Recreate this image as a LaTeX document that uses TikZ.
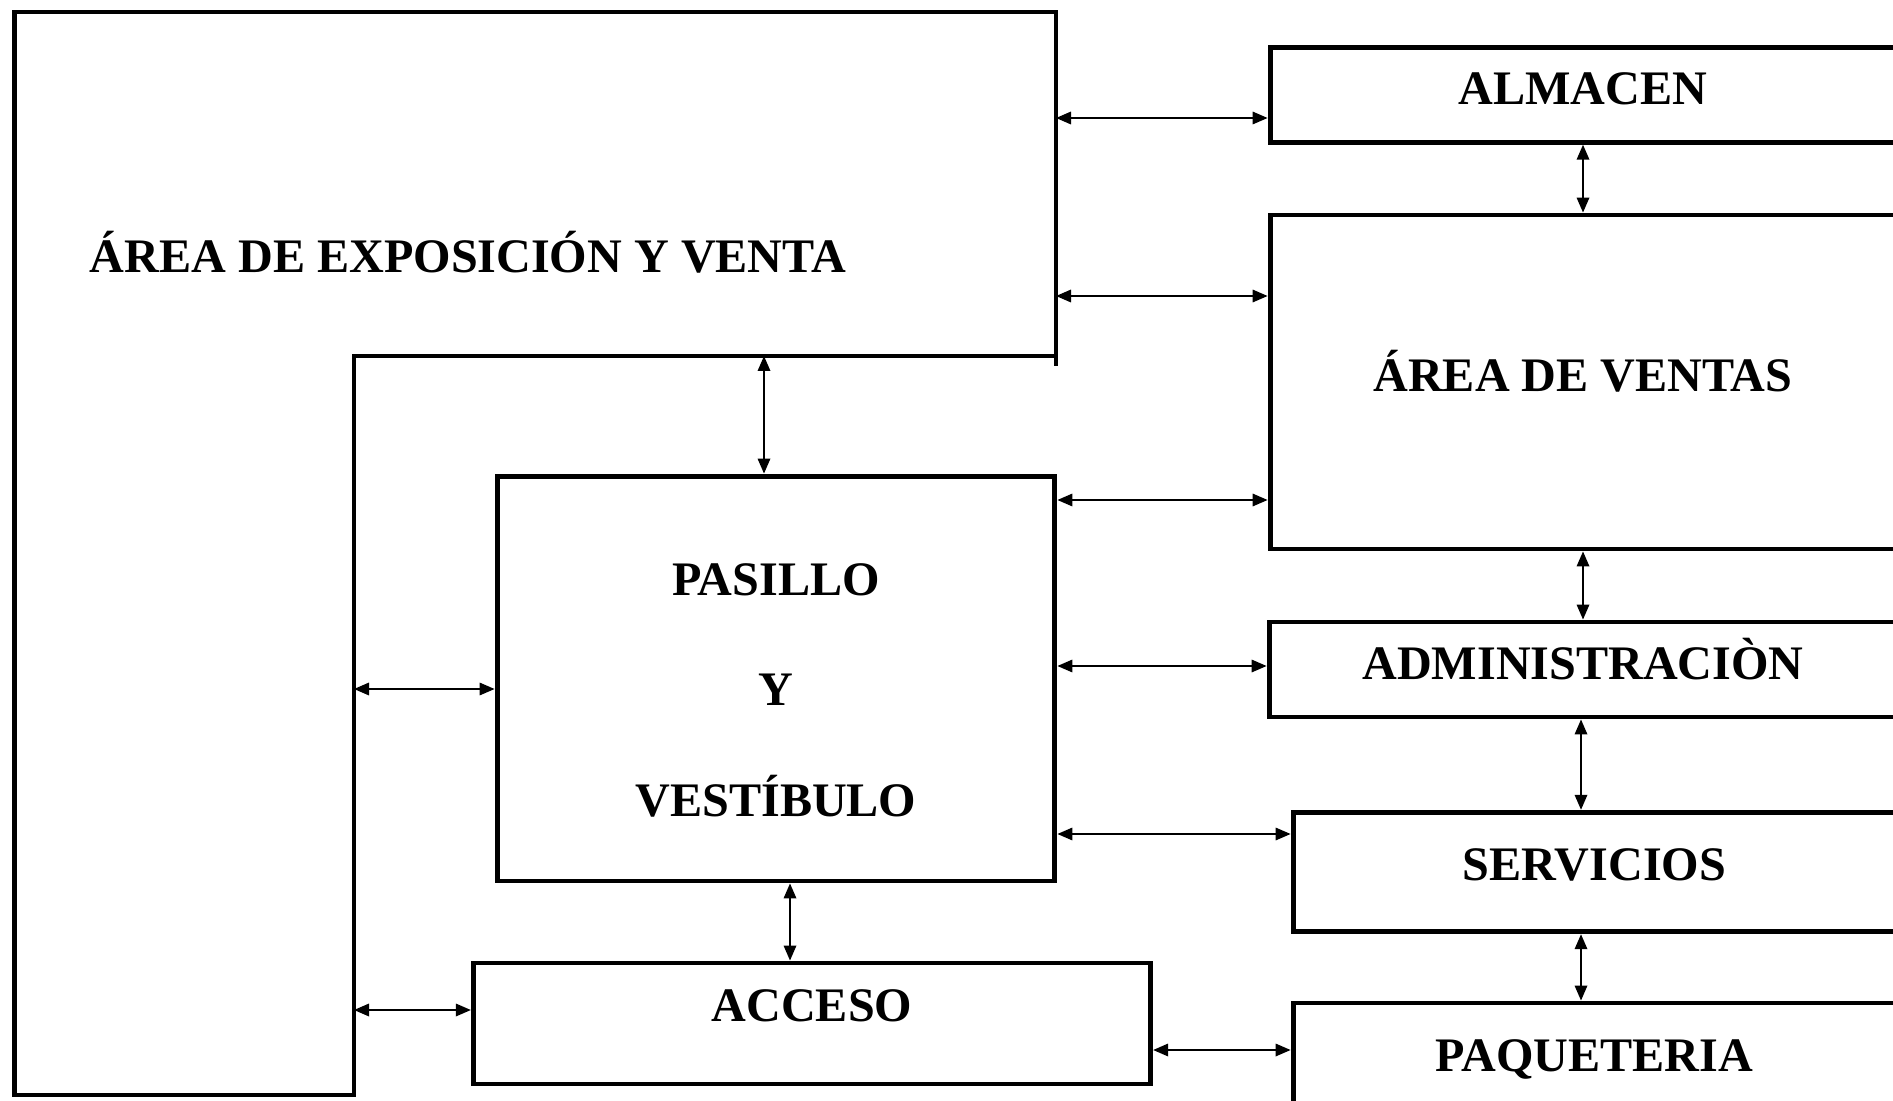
\documentclass[tikz,border=0pt]{standalone}
\usepackage{fontspec}
\setmainfont{Liberation Serif}
\usetikzlibrary{arrows.meta}
\tikzset{
  txt/.style={font=\bfseries\fontsize{27.4}{33}\selectfont,text height=0.64cm},
  box/.style={txt,draw,line width=2.8pt,inner sep=0pt,align=center,text depth=0.24cm},
  link/.style={line width=1pt,{Triangle[length=0.3cm,width=0.25cm]}-{Triangle[length=0.3cm,width=0.25cm]}}
}
\begin{document}
\begin{tikzpicture}[x=0.02cm,y=-0.02cm]
\useasboundingbox (0,0) rectangle (1893,1101);
\clip (0,0) rectangle (1893,1101);
% zona de exposicion (L)
\draw[line width=2.8pt] (1056,366) -- (1056,12) -- (14.5,12) -- (14.5,1095)
  -- (354,1095) -- (354,356) -- (1056,356);
\node[txt,text depth=0pt] (expo) at (468,257) {ÁREA DE EXPOSICIÓN Y VENTA};
\coordinate (exin) at (354,356);
\coordinate (exout) at (1056,356);
% bloques
\node[box,minimum width=11.16cm,minimum height=8.1cm,text height=156.7pt,text depth=0pt] (pas) at (776,678.5)
  {PASILLO\\[29.8pt] Y\\[29.8pt] VESTÍBULO};
\node[box,minimum width=13.55cm,minimum height=2.42cm,text depth=0.72cm] (acc) at (812,1023.5) {ACCESO};
\node[box,minimum width=12.52cm,minimum height=1.89cm] (alm) at (1583,95) {ALMACEN};
\node[box,minimum width=12.52cm,minimum height=6.68cm] (ven) at (1583,382) {ÁREA DE VENTAS};
\node[box,minimum width=12.56cm,minimum height=1.9cm] (adm) at (1583,669.5) {ADMINISTRACIÒN};
\node[box,minimum width=12.06cm,minimum height=2.39cm,text depth=0.3cm] (srv) at (1594.5,872) {SERVICIOS};
\node[box,minimum width=12.06cm,minimum height=2.32cm] (paq) at (1594.5,1061) {PAQUETERIA};
% conexiones
\foreach \a/\b/\y in {exout/alm.west/118, exout/ven.west/296, pas.east/ven.west/500,
    pas.east/adm.west/666, pas.east/srv.west/834, exin/pas.west/689,
    exin/acc.west/1010, acc.east/paq.west/1050}
  \draw[link] (\a |- 0,\y) -- (\b |- 0,\y);
\draw[link] (exin -| 764,0) -- (pas.north -| 764,0);
\draw[link] (pas.south -| 790,0) -- (acc.north -| 790,0);
\draw[link] (alm.south) -- (ven.north);
\draw[link] (ven.south) -- (adm.north);
\draw[link] (adm.south -| 1581,0) -- (srv.north -| 1581,0);
\draw[link] (srv.south -| 1581,0) -- (paq.north -| 1581,0);
\end{tikzpicture}
\end{document}
